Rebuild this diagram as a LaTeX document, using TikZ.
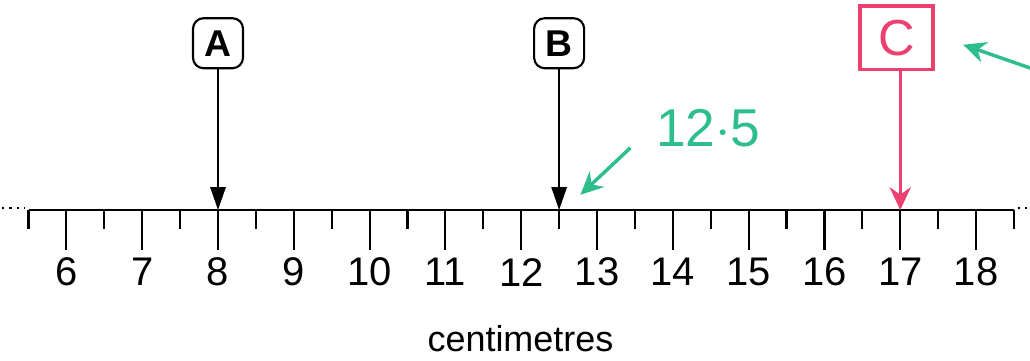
\documentclass[tikz,border=0pt]{standalone}
\usepackage{fontspec}
\setmainfont{Liberation Sans}
\usepackage{tikz}
\usetikzlibrary{arrows.meta,positioning,calc}
\definecolor{penred}{RGB}{236,64,110}
\definecolor{pengreen}{RGB}{46,190,140}
\tikzstyle{marker} = [rectangle, rounded corners=0.14cm, minimum width=0.66cm, minimum height=0.66cm, draw=black, thick, font=\bfseries\fontsize{14}{14}\selectfont, inner sep=0pt]
\tikzstyle{handbox} = [rectangle, minimum width=0.96cm, minimum height=0.84cm, draw=penred, line width=1.3pt, text=penred, font=\fontsize{19}{19}\selectfont, inner sep=0pt]
\tikzstyle{pointer} = [-{Triangle[length=0.3cm,width=0.2cm]}, thick]
\tikzstyle{penarrow} = [-{Stealth[length=0.3cm,width=0.28cm]}, line width=1.3pt, draw=pengreen]

\begin{document}
\begin{tikzpicture}
	\useasboundingbox (5.124,-1.992) rectangle (18.712,2.770);
	
	%scale
	\draw [thick] (5.5,0) -- (18.5,0);
	\draw [thick, dotted] (5.15,0.03) -- (5.45,0.03);
	\draw [thick, dotted] (18.55,0.03) -- (18.7,0.03);
	\foreach \v in {6,...,18}{
		\draw [thick] (\v,0) -- (\v,-0.53);
		\node [font=\fontsize{15}{15}\selectfont] (n\v) at (\v,-0.82) {\v};
	}
	\foreach \v in {5.5,6.5,...,18.5}
		\draw [thick] (\v,0) -- (\v,-0.25);
	\coordinate (p8) at (8,0);
	\coordinate (p125) at (12.5,0);
	\coordinate (p17) at (17,0);
	\node [font=\fontsize{13.5}{13.5}\selectfont] (unit) at (11.99,-1.7) {centimetres};
	
	%markers
	\node [marker] (A) at (8,2.2) {A};
	\node [marker] (B) at (12.5,2.2) {B};
	\node [handbox] (C) at (16.95,2.27) {C};
	
	%arrow
	\draw [pointer] (A) -- (p8);
	\draw [pointer] (B) -- (p125);
	\draw [penarrow, draw=penred] (C.south -| p17) -- (p17);
	
	%notes
	\node [text=pengreen, font=\fontsize{20}{20}\selectfont] (val) at (14.47,1.08) {12$\cdot$5};
	\coordinate (tailB) at (13.44,0.82);
	\coordinate (headB) at (12.78,0.2);
	\draw [penarrow] (tailB) -- (headB);
	\coordinate (tailC) at (18.75,1.86);
	\coordinate (headC) at (17.83,2.18);
	\draw [penarrow] (tailC) -- (headC);
\end{tikzpicture}
\end{document}
